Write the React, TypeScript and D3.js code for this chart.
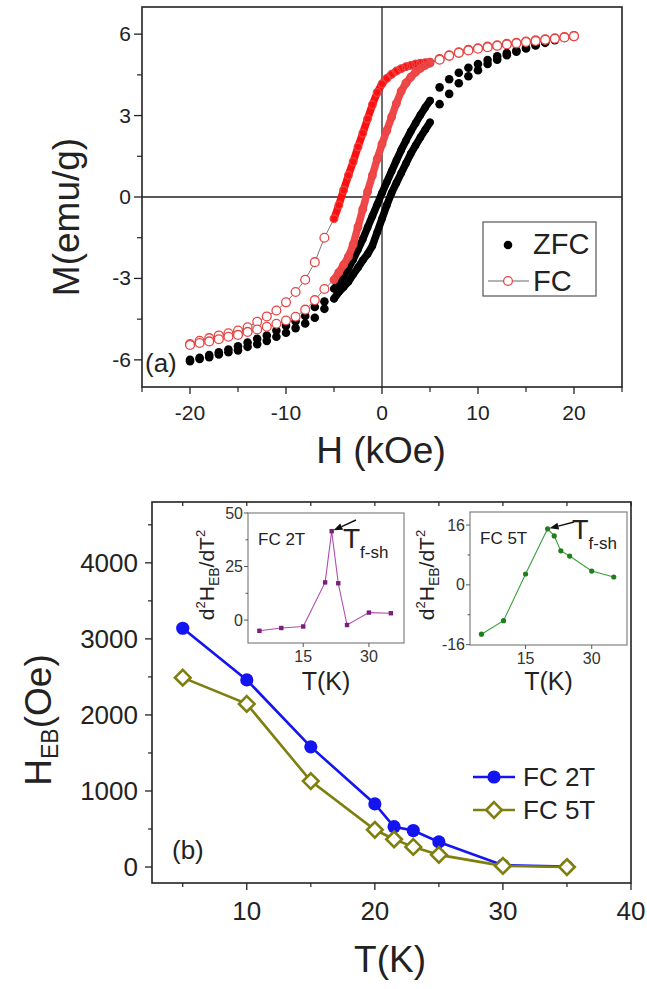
import React from "react";
import * as d3 from "d3";

// ---------------- Panel (a): M-H loops ----------------
const fieldDown = [20,19,18,17,16,15,14,13,12,11,10,9,8,7,6,5,4.5,4,3.5,3,2.5,2,1.5,1,0.5,0,-0.5,-1,-1.5,-2,-2.5,-3,-3.5,-4,-4.5,-5,-6,-7,-8,-9,-10,-11,-12,-13,-14,-15,-16,-17,-18,-19,-20];
const fieldUp = [-20,-19,-18,-17,-16,-15,-14,-13,-12,-11,-10,-9,-8,-7,-6,-5,-4.5,-4,-3.5,-3,-2.5,-2,-1.5,-1,-0.5,0,0.5,1,1.5,2,2.5,3,3.5,4,4.5,5,6,7,8,9,10,11,12,13,14,15,16,17,18,19,20];

const zfcDownM = [5.95,5.88,5.8,5.7,5.6,5.5,5.4,5.3,5.18,5.05,4.9,4.76,4.58,4.34,4.04,3.55,3.3,3.02,2.72,2.42,2.08,1.73,1.35,0.95,0.55,0.15,-0.28,-0.7,-1.12,-1.55,-1.93,-2.3,-2.62,-2.9,-3.15,-3.38,-3.85,-4.05,-4.38,-4.58,-4.74,-4.92,-5.1,-5.22,-5.36,-5.5,-5.62,-5.72,-5.82,-5.92,-6.0];
const zfcUpM = [-6.05,-5.97,-5.9,-5.8,-5.72,-5.65,-5.52,-5.42,-5.3,-5.15,-5.0,-4.83,-4.66,-4.45,-4.12,-3.75,-3.5,-3.32,-3.12,-2.85,-2.6,-2.33,-2.1,-1.8,-1.3,-0.8,-0.3,0.15,0.52,0.88,1.24,1.6,1.9,2.2,2.48,2.75,3.42,3.8,4.19,4.45,4.67,4.9,5.06,5.22,5.35,5.47,5.58,5.68,5.78,5.87,5.95];
const fcDownM = [5.93,5.89,5.85,5.81,5.77,5.73,5.68,5.64,5.59,5.54,5.48,5.42,5.33,5.22,5.08,4.97,4.95,4.93,4.9,4.85,4.8,4.73,4.64,4.52,4.37,4.17,3.85,3.4,2.88,2.35,1.85,1.3,0.8,0.25,-0.3,-0.8,-1.5,-2.4,-3.05,-3.5,-3.88,-4.18,-4.4,-4.6,-4.8,-4.92,-5.02,-5.1,-5.2,-5.3,-5.42];
const fcUpM = [-5.45,-5.38,-5.32,-5.24,-5.15,-5.08,-4.97,-4.88,-4.78,-4.67,-4.55,-4.41,-4.15,-3.8,-3.39,-3.05,-2.78,-2.5,-2.2,-1.75,-1.1,-0.45,0.2,0.8,1.4,1.95,2.45,2.95,3.45,3.9,4.2,4.42,4.6,4.74,4.85,4.93,5.06,5.2,5.31,5.4,5.46,5.52,5.57,5.62,5.66,5.71,5.75,5.79,5.83,5.88,5.92];

const topXTicks = [-20, -10, 0, 10, 20];
const topXMinor = [-25, -15, -5, 5, 15, 25];
const topYTicks = [-6, -3, 0, 3, 6];
const topYMinor = [-4.5, -1.5, 1.5, 4.5];

// ---------------- Panel (b): H_EB vs T ----------------
const temps = [5, 10, 15, 20, 21.5, 23, 25, 30, 35];
const hebFC2T = [3140, 2460, 1580, 830, 530, 480, 330, 25, 5];
const hebFC5T = [2490, 2145, 1130, 490, 365, 265, 160, 15, 0];
const d2FC2T = [-5, -3.7, -3, 17.6, 41.5, 17.2, -2.3, 3.5, 3.2];
const d2FC5T = [-13.2, -9.6, 2.9, 15, 13.1, 9.1, 7.7, 3.7, 2.1];

const botXTicks = [10, 20, 30, 40];
const botXMinor = [5, 15, 25, 35];
const botYTicks = [0, 1000, 2000, 3000, 4000];
const botYMinor = [500, 1500, 2500, 3500, 4500];
const insetXTicks = [15, 30];
const inset1YTicks = [0, 25, 50];
const inset1YMinor = [12.5, 37.5];
const inset2YTicks = [-16, 0, 16];
const inset2YMinor = [-8, 8];

const FONT = "'Liberation Sans', Arial, Helvetica, sans-serif";
const AX = "#222";

type Pt = [number, number];

function TopPanel() {
  const x = d3.scaleLinear().domain([-25, 25]).range([142, 622]);
  const y = d3.scaleLinear().domain([-7, 7]).range([387, 7]);
  const line = d3.line<Pt>().x((d) => x(d[0])).y((d) => y(d[1]));
  const zip = (h: number[], m: number[]): Pt[] => h.map((v, i) => [v, m[i]]);
  const zd = zip(fieldDown, zfcDownM);
  const zu = zip(fieldUp, zfcUpM);
  const fd = zip(fieldDown, fcDownM);
  const fu = zip(fieldUp, fcUpM);
  const dense = (a: Pt[]) => a.filter((d) => Math.abs(d[0]) <= 5);
  const [x0, x1] = x.range();
  const [yb, yt] = y.range();
  return (
    <g>
      {/* zero lines */}
      <line x1={x(0)} x2={x(0)} y1={yt} y2={yb} stroke={AX} strokeWidth={1.3} />
      <line x1={x0} x2={x1} y1={y(0)} y2={y(0)} stroke={AX} strokeWidth={1.3} />
      {/* ZFC */}
      {[zd, zu].map((s, k) => (
        <path key={"zb" + k} d={line(dense(s)) || ""} fill="none" stroke="#000" strokeWidth={7.5} strokeLinejoin="round" strokeLinecap="round" />
      ))}
      {[...zd, ...zu].map((d, i) => (
        <circle key={"z" + i} cx={x(d[0])} cy={y(d[1])} r={Math.abs(d[0]) <= 5 ? 3.8 : 4.3} fill="#000" />
      ))}
      {/* FC */}
      {[fd, fu].map((s, k) => (
        <path key={"fl" + k} d={line(s) || ""} fill="none" stroke="#555" strokeWidth={0.8} />
      ))}
      <path d={line(dense(fd)) || ""} fill="none" stroke="#ff1010" strokeWidth={7.5} strokeLinejoin="round" strokeLinecap="round" />
      <path d={line(dense(fu)) || ""} fill="none" stroke="#f04848" strokeWidth={7.5} strokeLinejoin="round" strokeLinecap="round" />
      {[...fd, ...fu].map((d, i) => (
        <circle key={"f" + i} cx={x(d[0])} cy={y(d[1])} r={Math.abs(d[0]) <= 5 ? 3.8 : 4.4} fill="#fff" fillOpacity={Math.abs(d[0]) <= 5 ? 0 : 1} stroke="#e84444" strokeWidth={1.3} />
      ))}
      {/* box */}
      <rect x={x0} y={yt} width={x1 - x0} height={yb - yt} fill="none" stroke={AX} strokeWidth={1.6} />
      {/* ticks */}
      {topYTicks.map((t) => (
        <g key={"yt" + t}>
          <line x1={x0 - 8} x2={x0} y1={y(t)} y2={y(t)} stroke={AX} strokeWidth={1.3} />
          <text x={x0 - 11} y={y(t) + 7} textAnchor="end" fontSize={21} fill="#222">{t}</text>
        </g>
      ))}
      {topYMinor.map((t) => (
        <line key={"ym" + t} x1={x0 - 5} x2={x0} y1={y(t)} y2={y(t)} stroke={AX} strokeWidth={1.2} />
      ))}
      {topXTicks.map((t) => (
        <g key={"xt" + t}>
          <line x1={x(t)} x2={x(t)} y1={yb} y2={yb + 7} stroke={AX} strokeWidth={1.3} />
          <text x={x(t)} y={yb + 33} textAnchor="middle" fontSize={21} fill="#222">{t}</text>
        </g>
      ))}
      {topXMinor.map((t) => (
        <line key={"xm" + t} x1={x(t)} x2={x(t)} y1={yb} y2={yb + 5} stroke={AX} strokeWidth={1.2} />
      ))}
      {/* titles */}
      <text transform={`translate(79,217) rotate(-90)`} textAnchor="middle" fontSize={37} fill="#222">M(emu/g)</text>
      <text x={381} y={463} textAnchor="middle" fontSize={37} fill="#222">H (kOe)</text>
      <text x={145} y={372} fontSize={26} fill="#222">(a)</text>
      {/* legend */}
      <rect x={483} y={222} width={113} height={74} fill="#fff" stroke="#555" strokeWidth={1.2} />
      <circle cx={508} cy={245} r={4.3} fill="#000" />
      <text x={533} y={254} fontSize={29} fill="#222">ZFC</text>
      <line x1={488} x2={529} y1={281} y2={281} stroke="#555" strokeWidth={0.9} />
      <circle cx={508} cy={281} r={4.4} fill="#fff" stroke="#e84444" strokeWidth={1.3} />
      <text x={533} y={291} fontSize={29} fill="#222">FC</text>
    </g>
  );
}

function Inset(props: {
  x0: number; x1: number; y0: number; y1: number; ydom: [number, number];
  vals: number[]; yTicks: number[]; yMinor: number[]; color: string; markColor: string;
  square: boolean; label: string; titleX: number; arrowFrom: Pt; tfx: number; tfy: number; tfSize: number;
}) {
  const p = props;
  const x = d3.scaleLinear().domain([2.4, 38]).range([p.x0, p.x1]);
  const y = d3.scaleLinear().domain(p.ydom).range([p.y1, p.y0]);
  const pts: Pt[] = temps.map((t, i) => [t, p.vals[i]]);
  const line = d3.line<Pt>().x((d) => x(d[0])).y((d) => y(d[1]));
  const peakIdx = d3.maxIndex(p.vals);
  const px = x(temps[peakIdx]);
  const py = y(p.vals[peakIdx]);
  const ax = p.arrowFrom[0];
  const ay = p.arrowFrom[1];
  const ang = Math.atan2(py - ay, px - ax);
  const hl = 9, hw = 3.5;
  const tipX = px + 2 * Math.cos(ang + Math.PI);
  const tipY = py + 2 * Math.sin(ang + Math.PI);
  const bx = tipX - hl * Math.cos(ang), by = tipY - hl * Math.sin(ang);
  const head = `M${tipX},${tipY} L${bx + hw * Math.sin(ang)},${by - hw * Math.cos(ang)} L${bx - hw * Math.sin(ang)},${by + hw * Math.cos(ang)} Z`;
  return (
    <g>
      <rect x={p.x0} y={p.y0} width={p.x1 - p.x0} height={p.y1 - p.y0} fill="#fff" stroke="#777" strokeWidth={1.1} />
      <path d={line(pts) || ""} fill="none" stroke={p.color} strokeWidth={1.1} />
      {pts.map((d, i) =>
        p.square ? (
          <rect key={i} x={x(d[0]) - 2.2} y={y(d[1]) - 2.2} width={4.4} height={4.4} fill={p.markColor} />
        ) : (
          <circle key={i} cx={x(d[0])} cy={y(d[1])} r={2.6} fill={p.markColor} />
        )
      )}
      {p.yTicks.map((t) => (
        <g key={"t" + t}>
          <line x1={p.x0 - 4} x2={p.x0} y1={y(t)} y2={y(t)} stroke="#555" strokeWidth={1} />
          <text x={p.x0 - 5} y={y(t) + 5.5} textAnchor="end" fontSize={16} fill="#333">{t}</text>
        </g>
      ))}
      {p.yMinor.map((t) => (
        <line key={"m" + t} x1={p.x0 - 2.5} x2={p.x0} y1={y(t)} y2={y(t)} stroke="#555" strokeWidth={1} />
      ))}
      {insetXTicks.map((t) => (
        <g key={"x" + t}>
          <line x1={x(t)} x2={x(t)} y1={p.y1} y2={p.y1 + 4} stroke="#555" strokeWidth={1} />
          <text x={x(t)} y={p.y1 + 19} textAnchor="middle" fontSize={16} fill="#333">{t}</text>
        </g>
      ))}
      <text x={p.x0 + 10} y={p.y0 + 32} fontSize={17} fill="#222">{p.label}</text>
      <line x1={ax} y1={ay} x2={bx} y2={by} stroke="#111" strokeWidth={1.4} />
      <path d={head} fill="#111" />
      <text x={p.tfx} y={p.tfy} fontSize={p.tfSize} fill="#222">T<tspan fontSize={17} dy={10}>f-sh</tspan></text>
      <text x={(p.x0 + p.x1) / 2} y={690} textAnchor="middle" fontSize={25} fill="#222">T(K)</text>
      <text transform={`translate(${p.titleX},575) rotate(-90)`} textAnchor="middle" fontSize={21} fill="#222">
        d<tspan fontSize={13} dy={-9}>2</tspan><tspan dy={9}>H</tspan><tspan fontSize={14} dy={5}>EB</tspan><tspan dy={-5}>/dT</tspan><tspan fontSize={13} dy={-9}>2</tspan>
      </text>
    </g>
  );
}

function BottomPanel() {
  const x = d3.scaleLinear().domain([2.6, 40]).range([152, 631]);
  const y = d3.scaleLinear().domain([-210, 4800]).range([883, 502]);
  const [x0, x1] = x.range();
  const [yb, yt] = y.range();
  const line = d3.line<Pt>().x((d) => x(d[0])).y((d) => y(d[1]));
  const s2: Pt[] = temps.map((t, i) => [t, hebFC2T[i]]);
  const s5: Pt[] = temps.map((t, i) => [t, hebFC5T[i]]);
  const blue = "#1414f0";
  const olive = "#7f7f10";
  const diamond = (cx: number, cy: number, r: number) => `M${cx},${cy - r} L${cx + r},${cy} L${cx},${cy + r} L${cx - r},${cy} Z`;
  return (
    <g>
      <rect x={x0} y={yt} width={x1 - x0} height={yb - yt} fill="none" stroke={AX} strokeWidth={1.6} />
      {[...botXTicks, ...botXMinor].map((t) => (
        <line key={"tt" + t} x1={x(t)} x2={x(t)} y1={yt} y2={yt + 4} stroke={AX} strokeWidth={1.2} />
      ))}
      <path d={line(s2) || ""} fill="none" stroke={blue} strokeWidth={2.6} />
      {s2.map((d, i) => (
        <circle key={"b" + i} cx={x(d[0])} cy={y(d[1])} r={6.6} fill={blue} />
      ))}
      <path d={line(s5) || ""} fill="none" stroke={olive} strokeWidth={2.6} />
      {s5.map((d, i) => (
        <path key={"o" + i} d={diamond(x(d[0]), y(d[1]), 7.8)} fill="#fff" stroke={olive} strokeWidth={2.6} />
      ))}
      {botYTicks.map((t) => (
        <g key={"y" + t}>
          <line x1={x0 - 7} x2={x0} y1={y(t)} y2={y(t)} stroke={AX} strokeWidth={1.3} />
          <text x={x0 - 14} y={y(t) + 9} textAnchor="end" fontSize={26} fill="#222">{t}</text>
        </g>
      ))}
      {botYMinor.map((t) => (
        <line key={"ym" + t} x1={x0 - 4} x2={x0} y1={y(t)} y2={y(t)} stroke={AX} strokeWidth={1.2} />
      ))}
      {botXTicks.map((t) => (
        <g key={"x" + t}>
          <line x1={x(t)} x2={x(t)} y1={yb} y2={yb + 7} stroke={AX} strokeWidth={1.3} />
          <text x={x(t)} y={yb + 37} textAnchor="middle" fontSize={26} fill="#222">{t}</text>
        </g>
      ))}
      {botXMinor.map((t) => (
        <line key={"xm" + t} x1={x(t)} x2={x(t)} y1={yb} y2={yb + 4} stroke={AX} strokeWidth={1.2} />
      ))}
      <text transform={`translate(51,720) rotate(-90)`} textAnchor="middle" fontSize={37} fill="#222">
        H<tspan fontSize={23} dy={7}>EB</tspan><tspan dy={-7}>(Oe)</tspan>
      </text>
      <text x={390} y={972} textAnchor="middle" fontSize={37} fill="#222">T(K)</text>
      <text x={172} y={859} fontSize={26} fill="#222">(b)</text>
      {/* legend */}
      <line x1={473} x2={515} y1={777} y2={777} stroke={blue} strokeWidth={2.6} />
      <circle cx={494} cy={777} r={6.6} fill={blue} />
      <text x={523} y={786} fontSize={26} fill="#222">FC 2T</text>
      <line x1={473} x2={515} y1={810} y2={810} stroke={olive} strokeWidth={2.6} />
      <path d={diamond(494, 810, 7.8)} fill="#fff" stroke={olive} strokeWidth={2.6} />
      <text x={523} y={819} fontSize={26} fill="#222">FC 5T</text>
      <Inset x0={248} x1={404} y0={513} y1={643} ydom={[-10.7, 50]} vals={d2FC2T}
        yTicks={inset1YTicks} yMinor={inset1YMinor} color="#b04cb0" markColor="#7a1f7a" square={true}
        label="FC 2T" titleX={214} arrowFrom={[356, 520]} tfx={343} tfy={548} tfSize={28} />
      <Inset x0={470} x1={627} y0={512} y1={645} ydom={[-16.1, 19.5]} vals={d2FC5T}
        yTicks={inset2YTicks} yMinor={inset2YMinor} color="#3aa03a" markColor="#1f7f1f" square={false}
        label="FC 5T" titleX={434} arrowFrom={[574, 522]} tfx={572} tfy={539} tfSize={27} />
    </g>
  );
}

export default function App() {
  return (
    <svg width={647} height={989} viewBox="0 0 647 989" fontFamily={FONT}
      style={{ position: "absolute", left: 0, top: 0, background: "#fff", display: "block" }}>
      <rect x={0} y={0} width={647} height={989} fill="#fff" />
      <TopPanel />
      <BottomPanel />
    </svg>
  );
}
